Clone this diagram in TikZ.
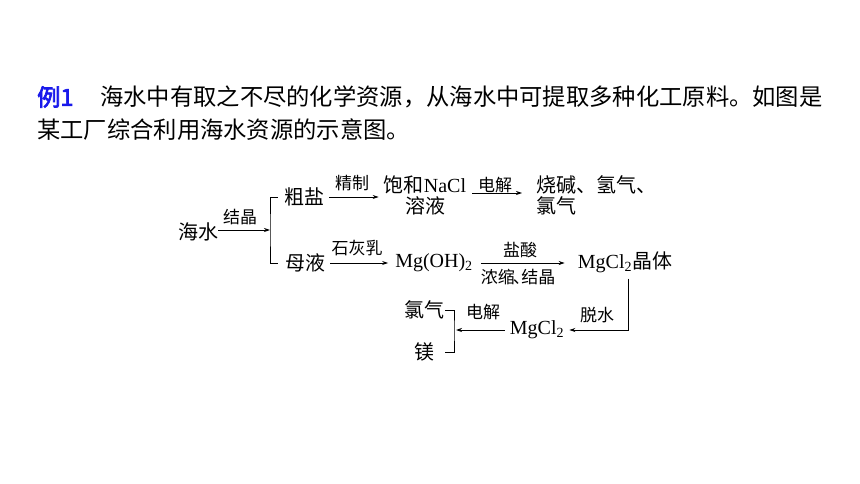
\documentclass[tikz,border=0pt]{standalone}
\usepackage{fontspec}
\setmainfont{Liberation Serif}
\newfontfamily\cjk{Noto Sans CJK SC}
\newfontfamily\cjkb{Noto Sans CJK SC}[FakeBold=3]
\usetikzlibrary{arrows.meta}
\definecolor{exblue}{RGB}{25,25,235}
\newcommand\mainfs{\fontsize{20}{21}\selectfont}
\newcommand\labfs{\fontsize{17}{17}\selectfont}
\newcommand\ttlfs{\fontsize{23.3}{28}\selectfont}
\tikzset{
  mainnode/.style={inner sep=0pt, font=\mainfs},
  labnode/.style={inner sep=0pt, font=\labfs\cjk},
  ttl/.style={inner sep=0pt, anchor=west, font=\ttlfs\cjk},
  arr/.style={-{Stealth[length=6pt,width=4pt]}, line width=0.8pt},
  ln/.style={line width=0.8pt},
}
\begin{document}
\begin{tikzpicture}[x=1pt,y=-1pt]
\useasboundingbox (0,0) rectangle (860,484);
\fill[white] (0,0) rectangle (860,484);
% title
\node[ttl, text=exblue, font=\ttlfs\cjkb] (ex) at (37,97) {例1};
\node[ttl] (t1) at (100,97) {海水中有取之不尽的化学资源，从海水中可提取多种化工原料。如图是};
\node[ttl] (t2) at (37,130) {某工厂综合利用海水资源的示意图。};
% diagram nodes
\node[mainnode] (hs) at (198,232) {\cjk 海水};
\node[labnode] (jj) at (240,217) {结晶};
\coordinate (bj) at (270,230);
\node[mainnode] (cy) at (304,197) {\cjk 粗盐};
\node[mainnode] (my) at (305,263) {\cjk 母液};
\node[mainnode, align=center] (bh) at (425,195) {{\cjk 饱和}NaCl\\{\cjk 溶液}};
\node[labnode] (jz) at (352,183) {精制};
\node[mainnode, anchor=west, align=left] (cp) at (536,195) {\cjk 烧碱、氢气、\\\cjk 氯气};
\node[labnode] (dj1) at (495,185) {电解};
\node[labnode] (shr) at (357,248) {石灰乳};
\node[mainnode] (mg) at (434,263) {Mg(OH)\textsubscript{2}};
\node[labnode] (ys) at (520,250) {盐酸};
\node[labnode] (ns) at (518,277) {浓缩\kern-0.12em 、\kern-0.5em 结晶};
\node[mainnode] (mgj) at (625,262) {MgCl\textsubscript{2}{\cjk 晶体}};
\coordinate (cr) at (628,330);
\node[mainnode] (mc) at (537,330) {MgCl\textsubscript{2}};
\node[labnode] (ts) at (597,315) {脱水};
\node[labnode] (dj2) at (483,312) {电解};
\coordinate (bk) at (454,330);
\node[mainnode] (lq) at (424,310) {\cjk 氯气};
\node[mainnode] (mei) at (424,352) {\cjk 镁};
% connectors
\draw[arr] (bj -| hs.east) -- (bj);
\draw[ln] ([xshift=-6pt]cy.west) -| (bj) |- ([xshift=-7pt]my.west);
\draw[arr, shorten <=5pt, shorten >=5pt] (cy.east) -- (cy.east -| bh.west);
\draw[arr, shorten <=6pt, shorten >=14pt] ([yshift=2pt]bh.east) -- ([yshift=2pt]bh.east -| cp.west);
\draw[arr, shorten <=5pt, shorten >=7pt] (my.east) -- (my.east -| mg.west);
\draw[arr, shorten <=8pt, shorten >=13pt] (mg.east) -- (mg.east -| mgj.west);
\draw[arr, shorten <=6pt, shorten >=5pt] (cr |- mgj.south) -- (cr) -- (mc.east);
\draw[arr, shorten <=5pt, shorten >=2pt] (mc.west) -- (bk);
\draw[ln] ([xshift=1pt]lq.east) -| (bk) |- ([xshift=11pt]mei.east);
\end{tikzpicture}
\end{document}
